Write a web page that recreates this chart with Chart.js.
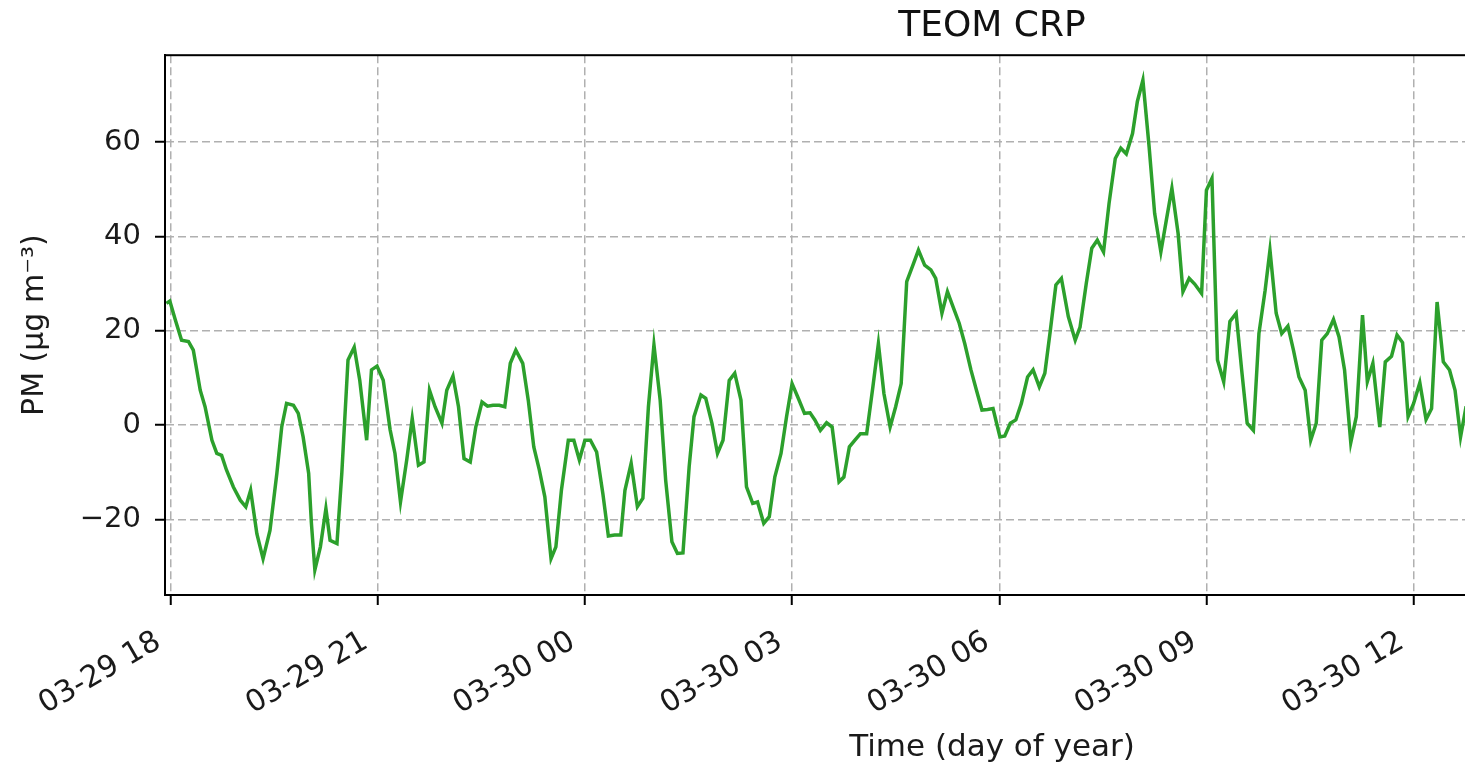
<!DOCTYPE html>
<html>
<head>
<meta charset="utf-8">
<title>TEOM CRP</title>
<script src="https://cdn.jsdelivr.net/npm/chart.js@4"></script>
<style>
html, body { margin: 0; padding: 0; background: #fff; overflow: hidden; }
#wrap { width: 1830px; height: 773px; }
</style>
</head>
<body>
<div id="wrap"><canvas id="pmChart" width="1830" height="773"></canvas></div>
<script>
// time in hours after 03-29 18:00
var times = [
    -0.06, -0.01, 0.07, 0.16, 0.26, 0.33, 0.43, 0.50, 0.60, 0.67, 0.74, 0.81, 0.91, 1.01, 1.09, 1.16, 1.25, 1.34, 1.44, 1.54,
    1.61, 1.68, 1.78, 1.85, 1.92, 2.00, 2.04, 2.09, 2.17, 2.25, 2.31, 2.41, 2.48, 2.57, 2.66, 2.74, 2.84, 2.91, 2.99, 3.08,
    3.18, 3.25, 3.33, 3.42, 3.50, 3.59, 3.67, 3.75, 3.83, 3.93, 4.00, 4.09, 4.17, 4.25, 4.34, 4.42, 4.51, 4.59, 4.67, 4.76,
    4.84, 4.92, 5.00, 5.10, 5.18, 5.26, 5.34, 5.42, 5.51, 5.58, 5.66, 5.76, 5.84, 5.92, 6.00, 6.08,
    6.17, 6.26, 6.34, 6.43, 6.52, 6.58, 6.67, 6.76, 6.84, 6.92, 7.00, 7.09, 7.17, 7.26, 7.34, 7.42, 7.51, 7.58, 7.68, 7.75,
    7.84, 7.92, 8.00, 8.09, 8.17, 8.26, 8.34, 8.43, 8.50, 8.59, 8.67, 8.75, 8.84, 8.92, 9.00, 9.09, 9.18,
    9.26, 9.33, 9.41, 9.50, 9.58, 9.68, 9.75, 9.83, 9.91, 9.99, 10.08, 10.17, 10.25, 10.33, 10.42, 10.50, 10.58, 10.66, 10.75, 10.83,
    10.92, 11.01, 11.08, 11.17, 11.25, 11.33, 11.42, 11.50, 11.59, 11.67, 11.75, 11.83, 11.91, 12.01, 12.08,
    12.16, 12.24, 12.32, 12.41, 12.49, 12.58, 12.66, 12.74, 12.82, 12.90, 13.00, 13.10, 13.17, 13.26, 13.34, 13.42, 13.51, 13.59, 13.68, 13.76,
    13.84, 13.93, 14.00, 14.08, 14.17, 14.25, 14.34, 14.42, 14.50, 14.59, 14.66, 14.75, 14.83, 14.93, 15.00, 15.08, 15.16, 15.25,
    15.34, 15.43, 15.51, 15.59, 15.68, 15.76, 15.85, 15.92, 16.01, 16.09, 16.18, 16.26, 16.34, 16.43, 16.51, 16.59, 16.67, 16.75, 16.84, 16.92,
    17.00, 17.09, 17.17, 17.26, 17.33, 17.41, 17.51, 17.59, 17.68, 17.76, 17.84, 17.92, 18.00, 18.09, 18.18, 18.26, 18.34, 18.43, 18.52, 18.60,
    18.68, 18.76
];

var pm = [
    25.8, 26.3, 22.3, 18.0, 17.7, 15.9, 7.4, 3.9, -3.2, -6.0, -6.4, -9.5, -13.1, -15.9, -17.3, -13.8, -23.0, -28.3, -22.3, -10.2,
    -0.4, 4.6, 4.2, 2.5, -2.5, -10.2, -20.8, -30.7, -25.8, -17.7, -24.4, -25.1, -10.2, 13.8, 16.5, 9.5, -3.2, 11.7, 12.5, 9.5,
    -1.0, -6.0, -16.3, -7.4, 1.4, -8.5, -7.8, 7.4, 3.9, 0.4, 7.4, 10.4, 3.9, -7.1, -7.8, -0.4, 4.9, 4.0, 4.2, 4.2,
    3.9, 13.1, 15.9, 13.1, 5.3, -4.6, -9.5, -15.2, -28.3, -25.8, -13.8, -3.2, -3.2, -7.4, -3.2, -3.2,
    -5.7, -14.5, -23.5, -23.3, -23.3, -13.8, -8.1, -17.3, -15.5, 3.9, 17.0, 5.3, -11.7, -24.7, -27.2, -27.1, -8.8, 1.8, 6.4, 5.7,
    0.4, -6.0, -3.2, 9.5, 11.0, 5.3, -13.1, -16.6, -16.3, -20.8, -19.4, -11.0, -6.0, 1.8, 8.8, 5.7, 2.5,
    2.6, 1.1, -1.1, 0.5, -0.4, -12.0, -11.0, -4.6, -3.2, -1.8, -1.8, 8.1, 17.3, 6.7, -0.4, 3.9, 8.8, 30.4, 33.9, 37.1,
    33.9, 32.9, 31.1, 23.7, 28.3, 25.1, 21.6, 17.3, 11.7, 7.4, 3.2, 3.3, 3.5, -2.5, -2.3,
    0.4, 1.1, 4.6, 10.2, 11.7, 8.1, 11.0, 20.1, 29.7, 31.1, 23.0, 18.0, 20.8, 30.0, 37.5, 39.2, 36.7, 47.0, 56.5, 58.7,
    57.5, 61.8, 68.6, 73.1, 59.0, 44.9, 36.7, 43.5, 50.2, 40.6, 28.3, 31.1, 29.9, 27.9, 49.8, 52.3, 13.8, 9.2,
    22.0, 23.7, 11.7, 0.4, -1.1, 19.4, 28.6, 37.1, 23.7, 19.4, 21.0, 15.9, 10.2, 7.4, -3.2, 0.4, 18.0, 19.4, 22.4, 18.7,
    11.7, -3.7, 1.8, 23.3, 9.2, 13.1, -0.4, 13.4, 14.6, 19.1, 17.5, 1.8, 4.6, 9.0, 1.2, 3.5, 26.1, 13.4, 11.7, 7.4,
    -2.5, 4.0
];

var tickHours = [0, 3, 6, 9, 12, 15, 18];
var tickLabels = ["03-29 18", "03-29 21", "03-30 00", "03-30 03", "03-30 06", "03-30 09", "03-30 12"];
var yTicks = [-20, 0, 20, 40, 60];

var FONT = "'DejaVu Sans', sans-serif";

var points = times.map(function (t, i) {
    return { x: t, y: pm[i] };
});

// matplotlib style box round the axes
var frame = {
    id: "frame",
    afterDatasetsDraw: function (chart) {
        var a = chart.chartArea;
        var ctx = chart.ctx;
        ctx.save();
        ctx.strokeStyle = "#000";
        ctx.lineWidth = 2;
        ctx.strokeRect(a.left, a.top, a.right - a.left, a.bottom - a.top);
        ctx.restore();
    }
};

var gridOpts = {
    color: "#b0b0b0",
    lineWidth: 1.5,
    tickLength: 10,
    tickColor: "#000",
    tickWidth: 2,
    tickBorderDash: []
};

var ctx = document.getElementById("pmChart").getContext("2d");
var myChart = new Chart(ctx, {
    type: "line",
    data: {
        datasets: [
            {
                label: "TEOM CRP",
                data: points,
                borderColor: "#2ca02c",
                borderWidth: 3.5,
                pointRadius: 0,
                tension: 0,
                fill: false
            }
        ]
    },
    plugins: [frame],
    options: {
        responsive: false,
        animation: false,
        devicePixelRatio: 1,
        layout: { padding: { left: 0, right: 11, top: 0, bottom: 0 } },
        plugins: {
            legend: { display: false },
            tooltip: { enabled: false },
            title: {
                display: true,
                text: "TEOM CRP",
                fullSize: false,
                color: "#111",
                font: { family: FONT, size: 36, weight: "normal" },
                padding: { top: 5, bottom: 7 }
            }
        },
        scales: {
            x: {
                type: "linear",
                min: -0.08,
                max: 23.87,
                afterBuildTicks: function (scale) {
                    scale.ticks = tickHours.map(function (v) { return { value: v }; });
                },
                afterFit: function (scale) {
                    scale.height = 178;
                },
                grid: gridOpts,
                border: { color: "#000", width: 2, dash: [8, 4] },
                ticks: {
                    autoSkip: false,
                    minRotation: 30,
                    maxRotation: 30,
                    padding: 19,
                    labelOffset: -12,
                    color: "#1a1a1a",
                    font: { family: FONT, size: 30 },
                    callback: function (value, index) {
                        return tickLabels[index];
                    }
                },
                title: {
                    display: true,
                    text: "Time (day of year)",
                    color: "#1a1a1a",
                    font: { family: FONT, size: 31 },
                    padding: { top: 0, bottom: 6 }
                }
            },
            y: {
                min: -36.0,
                max: 78.4,
                afterBuildTicks: function (scale) {
                    scale.ticks = yTicks.map(function (v) { return { value: v }; });
                },
                afterFit: function (scale) {
                    scale.width = 165;
                },
                grid: gridOpts,
                border: { color: "#000", width: 2, dash: [8, 4] },
                ticks: {
                    padding: 14,
                    color: "#1a1a1a",
                    font: { family: FONT, size: 29 },
                    callback: function (value) {
                        return value < 0 ? "\u2212" + Math.abs(value) : String(value);
                    }
                },
                title: {
                    display: true,
                    text: "PM (\u03bcg m\u207b\u00b3)",
                    color: "#1a1a1a",
                    font: { family: FONT, size: 30 },
                    padding: { top: 17, bottom: 0 }
                }
            }
        }
    }
});
</script>
</body>
</html>
